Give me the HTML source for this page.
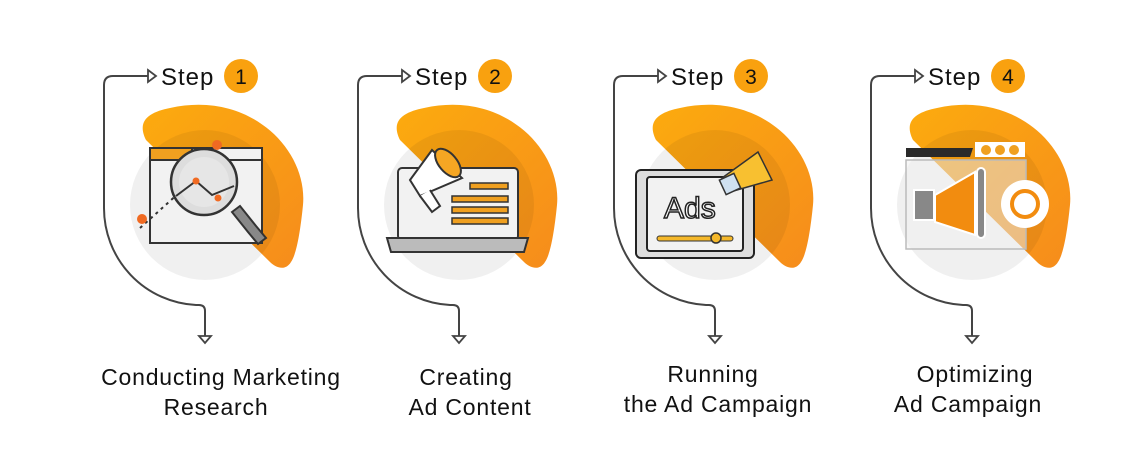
<!DOCTYPE html>
<html><head><meta charset="utf-8"><style>
body{margin:0;background:#fff;width:1146px;height:468px;overflow:hidden;font-family:"Liberation Sans",sans-serif}
svg{display:block}
text{font-family:"Liberation Sans",sans-serif}
</style></head><body>
<svg width="1146" height="468" viewBox="0 0 1146 468">
<defs>
<linearGradient id="og" x1="0" y1="0" x2="1" y2="1"><stop offset="0" stop-color="#fcab0e"/><stop offset="1" stop-color="#f68c1c"/></linearGradient>
<g id="base">
  <path d="M148,76 H113 Q104,76 104,85 V208 A97,97 0 0 0 196,305 H199 Q205,305 205,311 V336" fill="none" stroke="#444" stroke-width="2"/>
  <path d="M148,70 L156,76 L148,82 Z" fill="#fff" stroke="#444" stroke-width="1.8"/>
  <path d="M199,336 L211,336 L205,343 Z" fill="#fff" stroke="#444" stroke-width="1.8"/>
  <path d="M146,140 C136,120 150,112 170,108 C250,90 308,150 303,205 C300,235 296,255 291,262 C285,272 275,267 270,262 Z" fill="url(#og)"/>
  <circle cx="205" cy="205" r="75" fill="rgba(0,0,0,0.06)"/>
  <circle cx="241" cy="76" r="17" fill="#f9a10f"/>
</g>
</defs>

<g font-size="24" fill="#111" letter-spacing="1">
<text x="161" y="85">Step</text>
<text x="415" y="85">Step</text>
<text x="671" y="85">Step</text>
<text x="928" y="85">Step</text>
</g>

<!-- Step 1 -->
<use href="#base"/>
<text x="241" y="84" font-size="21" text-anchor="middle" fill="#111">1</text>
<rect x="150" y="148" width="112" height="95" fill="#f2f2f2" stroke="#333" stroke-width="2"/>
<rect x="150" y="148" width="42" height="12" fill="#f0a020" stroke="#333" stroke-width="2"/>
<line x1="150" y1="160" x2="262" y2="160" stroke="#333" stroke-width="2"/>
<path d="M140,228 L210,165" stroke="#333" stroke-width="2" stroke-dasharray="3,4"/>
<circle cx="142" cy="219" r="5" fill="#f06a22"/>
<circle cx="217" cy="145" r="5" fill="#f06a22"/>
<circle cx="204" cy="182" r="33" fill="#ddd" stroke="#333" stroke-width="2.5"/>
<circle cx="204" cy="182" r="25" fill="#e6e6e6"/>
<path d="M176,196 L196,181 L212,195 L234,186" fill="none" stroke="#333" stroke-width="2"/>
<circle cx="196" cy="181" r="3.5" fill="#f06a22"/><circle cx="218" cy="198" r="3.5" fill="#f06a22"/>
<path d="M232,212 L248,232 L258,244 L266,238 L256,226 L240,206 Z" fill="#888" stroke="#333" stroke-width="2"/>

<!-- Step 2 -->
<g transform="translate(254,0)"><use href="#base"/></g>
<text x="495" y="84" font-size="21" text-anchor="middle" fill="#111">2</text>
<rect x="398" y="168" width="120" height="72" rx="4" fill="#f2f2f2" stroke="#333" stroke-width="2"/>
<path d="M387,238 H528 L524,252 H391 Z" fill="#bbb" stroke="#333" stroke-width="2"/>
<rect x="470" y="183" width="38" height="6" fill="#f0a020" stroke="#333" stroke-width="1.5"/>
<rect x="452" y="196" width="56" height="6" fill="#f0a020" stroke="#333" stroke-width="1.5"/>
<rect x="452" y="207" width="56" height="6" fill="#f0a020" stroke="#333" stroke-width="1.5"/>
<rect x="452" y="218" width="56" height="6" fill="#f0a020" stroke="#333" stroke-width="1.5"/>
<path d="M410,180 L432,150 L462,178 L420,196 Z" fill="#fff" stroke="#333" stroke-width="2"/>
<ellipse cx="448" cy="163" rx="9" ry="17" transform="rotate(-40 448 163)" fill="#f5a623" stroke="#333" stroke-width="2"/>
<path d="M420,196 L432,212 L440,206 L430,190" fill="#fff" stroke="#333" stroke-width="2"/>

<!-- Step 3 -->
<g transform="translate(510,0)"><use href="#base"/></g>
<text x="751" y="84" font-size="21" text-anchor="middle" fill="#111">3</text>
<rect x="636" y="170" width="118" height="88" rx="5" fill="#ddd" stroke="#222" stroke-width="2"/>
<rect x="647" y="177" width="96" height="74" rx="3" fill="#f2f2f2" stroke="#222" stroke-width="2"/>
<text x="664" y="218" font-size="30" fill="#fff" stroke="#222" stroke-width="1.5">Ads</text>
<rect x="657" y="236" width="76" height="5" rx="2.5" fill="#f5b82a" stroke="#333" stroke-width="1"/>
<circle cx="716" cy="238" r="5" fill="#f5b82a" stroke="#333" stroke-width="1.5"/>
<path d="M722,178 L758,152 L772,180 L730,192 Z" fill="#f8c030" stroke="#333" stroke-width="1.5"/>
<rect x="722" y="176" width="16" height="16" fill="#cfe0f0" stroke="#333" stroke-width="1.5" transform="rotate(-25 730 184)"/>

<!-- Step 4 -->
<g transform="translate(767,0)"><use href="#base"/></g>
<text x="1008" y="84" font-size="21" text-anchor="middle" fill="#111">4</text>
<path d="M906,148 H973 L970,157 H906 Z" fill="#2a2a2a"/>
<rect x="975" y="142" width="50" height="15" fill="#fff"/>
<circle cx="986" cy="150" r="5" fill="#f0a020"/><circle cx="1000" cy="150" r="5" fill="#f0a020"/><circle cx="1014" cy="150" r="5" fill="#f0a020"/>
<rect x="906" y="160" width="120" height="89" fill="rgba(240,240,240,0.5)" stroke="#bbb" stroke-width="1.5"/>
<path d="M935,195 L975,172 V235 L935,222 Z" fill="#f28c0f" stroke="#fff" stroke-width="2"/>
<rect x="977" y="168" width="8" height="70" rx="4" fill="#888" stroke="#fff" stroke-width="2"/>
<rect x="914" y="190" width="20" height="30" fill="#888" stroke="#fff" stroke-width="2"/>
<circle cx="1025" cy="204" r="24" fill="#fff"/>
<circle cx="1025" cy="204" r="13" fill="none" stroke="#f28c0f" stroke-width="4"/>

<!-- Labels -->
<g font-size="23" fill="#111" text-anchor="middle" letter-spacing="0.8">
<text x="221" y="385">Conducting Marketing</text>
<text x="216" y="415">Research</text>
<text x="466" y="385">Creating</text>
<text x="470" y="415">Ad Content</text>
<text x="713" y="382">Running</text>
<text x="718" y="412">the Ad Campaign</text>
<text x="975" y="382">Optimizing</text>
<text x="968" y="412">Ad Campaign</text>
</g>
</svg>
</body></html>
